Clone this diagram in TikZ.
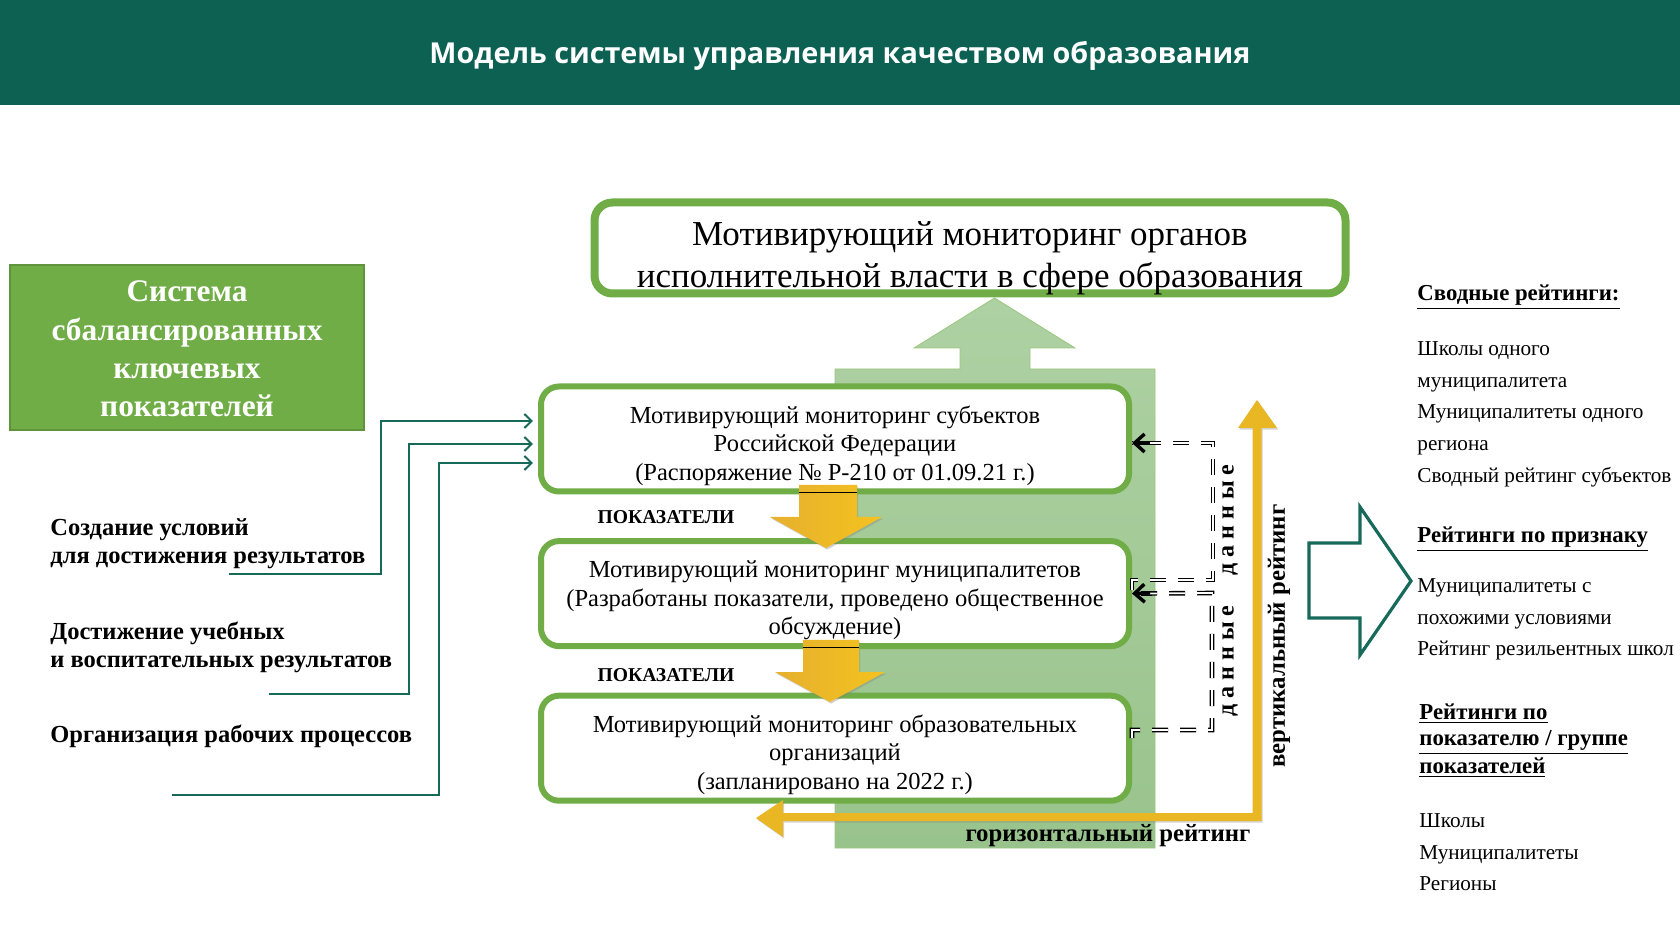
\documentclass[tikz,border=0pt]{standalone}
\usepackage{fontspec}
\setmainfont{Liberation Serif}
\newfontfamily\titlefont{Open Sans}
\usetikzlibrary{arrows.meta,positioning,shadows}
\definecolor{headgreen}{HTML}{0D6152}
\definecolor{boxgreen}{HTML}{70AD47}
\definecolor{linegreen}{HTML}{17695A}
\definecolor{backtop}{HTML}{AED1A3}
\definecolor{backbottom}{HTML}{99C38C}
\definecolor{goldL}{HTML}{E6B02E}
\definecolor{goldR}{HTML}{F4C21F}
\definecolor{goldline}{HTML}{E9B624}

\begin{document}
\begin{tikzpicture}[
    x=0.5pt,
    y=-0.5pt,
    node distance=77.3pt,
    >={Straight Barb[length=3.6pt,width=7pt]},
    header/.style={
		fill=headgreen,
		text=white,
		minimum width=840pt,
		minimum height=52.5pt,
		font=\titlefont\bfseries\fontsize{14.4}{18}\selectfont
	},
	monitor/.style={
		rectangle,
		rounded corners=9pt,
		draw=boxgreen,
		line width=3pt,
		fill=white,
		text centered,
		inner sep=0pt,
		minimum width=294pt,
		minimum height=52.5pt,
		font=\fontsize{12.25}{14.3}\selectfont
	},
	system/.style={
		rectangle,
		draw=boxgreen!85!black,
		line width=0.8pt,
		fill=boxgreen,
		text=white,
		inner sep=0pt,
		minimum width=177pt,
		minimum height=82.5pt,
		font=\bfseries\fontsize{15.7}{19.2}\selectfont
	},
	factor/.style={
		anchor=west,
		inner sep=0pt,
		font=\bfseries\fontsize{12.25}{14}\selectfont
	},
	rating/.style={
		anchor=west,
		inner sep=0pt,
		font=\bfseries\fontsize{11.4}{13.4}\selectfont
	},
	ratinglist/.style={
		anchor=west,
		inner sep=0pt,
		font=\fontsize{10.6}{15.8}\selectfont
	},
	tag/.style={
		inner sep=0pt,
		font=\bfseries\fontsize{9.8}{12}\selectfont
	},
	axis/.style={
		inner sep=0pt,
		font=\bfseries\fontsize{12.4}{14}\selectfont
	},
	feed/.style={
		draw=linegreen,
		line width=1pt,
		shorten >=2.5pt,
		->
	},
	datalink/.style={
		draw=black,
		line width=0.7pt,
		double,
		double distance=0.9pt,
		dash pattern=on 8pt off 6pt
	},
	datatip/.style={
		draw=black,
		line width=1.7pt,
		-{Straight Barb[length=5pt,width=9pt]}
	},
	gold/.style={
		left color=goldL,
		right color=goldR,
		drop shadow={opacity=0.35,shadow xshift=0.6pt,shadow yshift=-0.8pt}
	}
  ]
  \useasboundingbox (0,0) rectangle (1680,945);

    % header and the big arrow behind the blocks
  \node [header] (title) at (840,52.5) {\raisebox{-5.7pt}[0pt][0pt]{Модель системы управления качеством образования}};

  \path [draw=boxgreen!70, line width=0.4pt, top color=backtop, bottom color=backbottom]
    (835,848) -- (835,369) -- (960,369) -- (960,348) -- (914,348) -- (994.5,298)
    -- (1075,348) -- (1030,348) -- (1030,369) -- (1155,369) -- (1155,848) -- cycle;

    % the blocks
  \node [monitor, line width=4pt, minimum width=375.5pt, minimum height=45.5pt] (top) at (970,248)
 {%
 \fontsize{17.5}{21}\selectfont
 \raisebox{-9.5pt}[20pt][20pt]{%
 \begin{tabular}{c}
  Мотивирующий мониторинг органов\\
  исполнительной власти в сфере образования
 \end{tabular}}
 };

  \node [monitor] (subject) at (835,439)
 {%
 \begin{tabular}{c}
  \rule{0pt}{17pt}Мотивирующий мониторинг субъектов\\
  Российской Федерации\\
  (Распоряжение № Р-210 от 01.09.21 г.)
 \end{tabular}
 };

  \node [monitor, below of=subject] (municipal)
 {%
 \begin{tabular}{c}
  \rule{0pt}{17pt}Мотивирующий мониторинг муниципалитетов\\
  (Разработаны показатели, проведено общественное\\
  обсуждение)
 \end{tabular}
 };

  \node [monitor, below of=municipal] (school)
 {%
 \begin{tabular}{c}
  \rule{0pt}{17pt}Мотивирующий мониторинг образовательных\\
  организаций\\
  (запланировано на 2022 г.)
 \end{tabular}
 };

  \node [system] (balance) at (187,347.5)
 {%
 \begin{tabular}{c}
  \rule{0pt}{17.5pt}Система\\
  сбалансированных\\
  ключевых\\
  показателей
 \end{tabular}
 };

    % what goes in on the left
  \node [factor] (factor1) at (50,543.6)
 {%
 \begin{tabular}{@{}l@{}}
  Создание условий\\
  для достижения результатов
 \end{tabular}
 };
  \node [factor] (factor2) at (50,648)
 {%
 \begin{tabular}{@{}l@{}}
  Достижение учебных\\
  и воспитательных результатов
 \end{tabular}
 };
  \node [factor] (factor3) at (50,736.6) {Организация рабочих процессов};

  \coordinate (start1) at (229,574);
  \coordinate (turn1) at (381,421);
  \coordinate (start2) at (269,694);
  \coordinate (turn2) at (409,444);
  \coordinate (start3) at (172,795);
  \coordinate (turn3) at (439,463);

  \draw [feed] (start1) -| (turn1) -- (turn1 -| subject.west);
  \draw [feed] (start2) -| (turn2) -- (turn2 -| subject.west);
  \draw [feed] (start3) -| (turn3) -- (turn3 -| subject.west);

    % ratings on the right
  \node [rating] (rating1) at (1417,297) {\underline{Сводные рейтинги:}};
  \node [ratinglist] (list1) at (1417,412.5)
 {%
 \begin{tabular}{@{}l@{}}
  Школы одного\\
  муниципалитета\\
  Муниципалитеты одного\\
  региона\\
  Сводный рейтинг субъектов
 \end{tabular}
 };
  \node [rating] (rating2) at (1417,539) {\underline{Рейтинги по признаку}};
  \node [ratinglist] (list2) at (1417,618)
 {%
 \begin{tabular}{@{}l@{}}
  Муниципалитеты с\\
  похожими условиями\\
  Рейтинг резильентных школ
 \end{tabular}
 };
  \node [rating] (rating3) at (1419,741)
 {%
 \begin{tabular}{@{}l@{}}
  \underline{Рейтинги по}\\
  \underline{показателю / группе}\\
  \underline{показателей}
 \end{tabular}
 };
  \node [ratinglist] (list3) at (1419,853)
 {%
 \begin{tabular}{@{}l@{}}
  Школы\\
  Муниципалитеты\\
  Регионы
 \end{tabular}
 };

  \draw [draw=linegreen, line width=1.6pt, line join=miter]
    (1309,543) -- (1360,543) -- (1360,507) -- (1411,581) -- (1360,655) -- (1360,618) -- (1309,618) -- cycle;

    % dashed data links
  \coordinate (dataA) at (1213,443);
  \coordinate (dataB) at (1213,580);
  \coordinate (dataC) at (1212,593);
  \coordinate (dataD) at (1212,730);

  \draw [datalink] (municipal.east |- 0,590) -- (municipal.east |- dataB) -- (dataB) -- (dataA) -- (dataA -| subject.east);
  \draw [datalink] (school.east |- 0,738) -- (school.east |- dataD) -- (dataD) -- (dataC) -- (municipal.east);
  \draw [datatip] (1150,443) -- (dataA -| subject.east);
  \draw [datatip] (1150,593) -- (municipal.east);

  \node [axis, rotate=90, font=\bfseries\fontsize{12}{14}\selectfont] (data1) at (1230,520) {д а н н ы е};
  \node [axis, rotate=90, font=\bfseries\fontsize{12}{14}\selectfont] (data2) at (1230,661) {д а н н ы е};

    % gold arrows
  \shade [gold] (799,485) -- (857,485) -- (857,517) -- (882,517) -- (826,548) -- (770,517) -- (799,517) -- cycle;
  \shade [gold] (803,640) -- (859,640) -- (859,672) -- (885,672) -- (830,702) -- (775,672) -- (803,672) -- cycle;
  \draw [black, line width=0.5pt] (799,493) -- (857,493);
  \draw [black, line width=0.5pt] (803,648) -- (859,648);

  \shade [gold, left color=goldline, right color=goldline]
    (1261.5,821) -- (783,821) -- (783,837) -- (756,818) -- (783,800) -- (783,813)
    -- (1252.5,813) -- (1252.5,428) -- (1238,428) -- (1257,400) -- (1277,428)
    -- (1261.5,428) -- cycle;

  \node [tag] (tag1) at (666,517) {ПОКАЗАТЕЛИ};
  \node [tag] (tag2) at (666,675) {ПОКАЗАТЕЛИ};
  \node [axis] (horizontal) at (1108,836) {горизонтальный рейтинг};
  \node [axis, rotate=90] (vertical) at (1279,636) {вертикальный рейтинг};

\end{tikzpicture}
\end{document}
